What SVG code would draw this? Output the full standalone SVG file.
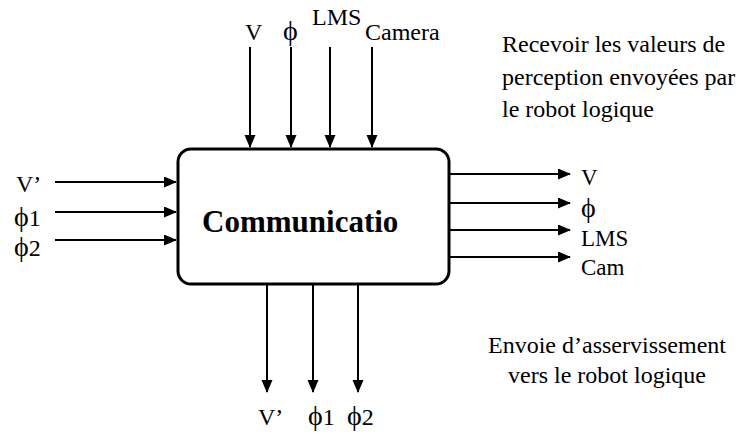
<svg xmlns="http://www.w3.org/2000/svg" width="740" height="435" viewBox="0 0 740 435">
<style>
text{font-family:'Liberation Serif','DejaVu Serif',serif;fill:#000;}
.lbl{font-size:24px;}
.phi{font-size:28px;}
.rl{font-size:23px;}
.note{font-size:24px;}
.ln{stroke:#000;stroke-width:2;fill:none;marker-end:url(#ah);}
</style>
<defs>
<marker id="ah" markerUnits="userSpaceOnUse" markerWidth="13" markerHeight="12" refX="12" refY="5.5" orient="auto">
<path d="M0,0 L13,5.5 L0,11 z" fill="#000"/>
</marker>
</defs>
<rect width="740" height="435" fill="#fff"/>
<g id="communication">
<rect x="178" y="149" width="271" height="135" rx="13" ry="13" fill="#fff" stroke="#000" stroke-width="3"/>
<text x="202" y="232" font-size="31" font-weight="bold">Communicatio</text>
</g>
<g id="connectors">
<line class="ln" x1="250" y1="47" x2="250" y2="147"/>
<line class="ln" x1="291" y1="47" x2="291" y2="147"/>
<line class="ln" x1="330" y1="47" x2="330" y2="147"/>
<line class="ln" x1="372" y1="47" x2="372" y2="147"/>
<line class="ln" x1="55" y1="182" x2="176" y2="182"/>
<line class="ln" x1="55" y1="212" x2="176" y2="212"/>
<line class="ln" x1="55" y1="240" x2="176" y2="240"/>
<line class="ln" x1="449" y1="174" x2="570" y2="174"/>
<line class="ln" x1="449" y1="203" x2="570" y2="203"/>
<line class="ln" x1="449" y1="230" x2="570" y2="230"/>
<line class="ln" x1="449" y1="257" x2="570" y2="257"/>
<line class="ln" x1="267" y1="285" x2="267" y2="392"/>
<line class="ln" x1="313" y1="285" x2="313" y2="392"/>
<line class="ln" x1="358" y1="285" x2="358" y2="392"/>
</g>
<g id="top-labels">
<text class="lbl" x="245" y="40">V</text>
<text class="phi" x="283" y="40">ϕ</text>
<text class="lbl" x="312" y="25">LMS</text>
<text class="lbl" x="365" y="40">Camera</text>
</g>
<g id="left-labels">
<text class="lbl" x="16" y="192">V’</text>
<text class="lbl" x="14" y="226"><tspan class="phi">ϕ</tspan>1</text>
<text class="lbl" x="14" y="256"><tspan class="phi">ϕ</tspan>2</text>
</g>
<g id="right-labels">
<text class="rl" x="581" y="185">V</text>
<text class="phi" x="581" y="217">ϕ</text>
<text class="rl" x="581" y="246">LMS</text>
<text class="rl" x="581" y="275">Cam</text>
</g>
<g id="bottom-labels">
<text class="lbl" x="258" y="425">V’</text>
<text class="lbl" x="308" y="425"><tspan class="phi">ϕ</tspan>1</text>
<text class="lbl" x="347" y="425"><tspan class="phi">ϕ</tspan>2</text>
</g>
<g id="notes">
<text class="note" x="502" y="52">Recevoir les valeurs de</text>
<text class="note" x="502" y="85">perception envoyées par</text>
<text class="note" x="502" y="117">le robot logique</text>
<text class="note" x="607" y="353" text-anchor="middle">Envoie d’asservissement</text>
<text class="note" x="607" y="383" text-anchor="middle">vers le robot logique</text>
</g>
</svg>
